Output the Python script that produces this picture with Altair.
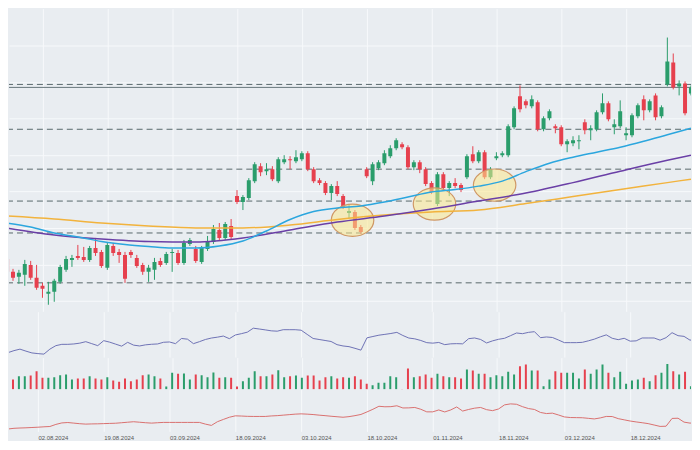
import altair as alt
import pandas as pd

# ---------------- data ----------------
TICK_IDX = [6, 17, 28, 39, 50, 61, 72, 83, 94, 105]
TICK_LABELS = ["02.08.2024", "19.08.2024", "03.09.2024", "18.09.2024", "03.10.2024",
               "18.10.2024", "01.11.2024", "18.11.2024", "03.12.2024", "18.12.2024"]

OPEN = [70.5, 64, 61.5, 62.5, 67.5, 61, 57, 53, 54, 59,
        65, 70, 72, 71.5, 70, 76, 74, 66, 77, 74,
        72.5, 74, 71, 67.5, 64, 65, 69.5, 68.5, 73.5, 73.5,
        68.5, 78, 75.5, 69, 75.5, 79, 85, 81, 87, 102,
        99, 101, 109.5, 117, 114.5, 115.5, 109.5, 119, 120.5, 119.5,
        120.5, 123.5, 115.5, 110, 108.5, 103.5, 107, 102, 93.5, 94,
        86.5, 115.5, 109.5, 116, 118.5, 122, 126, 128, 126.5, 116.5,
        119, 115.5, 108.5, 98, 113, 106, 108.5, 107.5, 111.5, 123,
        119.5, 124, 111.5, 121, 122.5, 122.5, 136.5, 152, 149.5, 147,
        149, 135.5, 141, 137, 136.5, 128, 128.5, 129.5, 139, 135,
        135.5, 144, 148.5, 136.5, 137, 132.5, 132.5, 142, 150.5, 145,
        152.5, 142, 158, 169, 157, 158.5, 153.5]
HIGH = [72.5, 65.5, 65, 70, 69.5, 67.5, 58.5, 59, 60.5, 67.5,
        72, 72.5, 77.5, 76.5, 77, 81, 75, 78.5, 78.5, 75.5,
        74, 75, 72.5, 68.5, 67.5, 71, 71, 74, 75.5, 75,
        80, 81, 77, 77, 82, 87.5, 88.5, 89, 90.5, 105,
        102.5, 111, 119, 118.5, 118.5, 117, 121.5, 122.5, 122, 125,
        124.5, 124.5, 116.5, 111, 109.5, 108, 109.5, 103, 97.5, 95,
        87.5, 116.5, 119, 120, 125, 127.5, 131, 129, 127.5, 120,
        120, 116.5, 109.5, 114, 114, 109.5, 111, 108.5, 123, 127,
        125, 125, 116.5, 124, 124.5, 138, 147, 157.5, 150.5, 152.5,
        150, 142, 145.5, 138, 137.5, 130.5, 132, 132.5, 140.5, 137.5,
        145, 153.5, 149.5, 140.5, 150, 136.5, 143.5, 148.5, 152.5, 150.5,
        153.5, 147.5, 181.5, 173.5, 160, 159.5, 157.5]
LOW = [62.5, 59.5, 58, 57, 60, 55, 51, 47.5, 49, 58,
       64, 66.5, 70, 69, 69, 72, 66, 65, 72, 68.5,
       58.5, 71, 66, 62.5, 59, 60, 66.5, 67.5, 64, 67.5,
       67.5, 77, 68.5, 68, 74.5, 78, 80, 80, 80.5, 98,
       95, 100, 108.5, 112, 112.5, 109.5, 108.5, 118, 115.5, 118.5,
       119.5, 114.5, 108.5, 107.5, 102.5, 100, 102, 95.5, 91, 85,
       83, 111, 107.5, 115, 117.5, 121, 125, 125.5, 115.5, 115,
       113.5, 107, 103, 97, 105, 102, 106, 104, 110.5, 118.5,
       118.5, 110.5, 110.5, 120, 121.5, 121.5, 135.5, 144, 146, 146,
       134.5, 134.5, 140, 133.5, 127, 124, 127, 125.5, 133, 130,
       134.5, 143, 139.5, 133, 136, 130, 131.5, 141, 140, 144,
       140, 141, 157, 155.5, 152.5, 142.5, 152.5]
CLOSE = [64, 61, 63.5, 68, 61, 56, 55.5, 54, 59.5, 66.5,
         70.5, 71, 71, 70, 76, 73.5, 67, 77.5, 73.5, 72.5,
         60.5, 72.5, 67, 64, 66, 69, 67.5, 73, 74, 68.5,
         78.5, 80, 69.5, 76, 79.5, 85.5, 81, 88, 81.5, 99,
         101.5, 110, 118, 114, 115.5, 110.5, 120.5, 120.5, 120, 121.5,
         123.5, 115.5, 109.5, 108.5, 103.5, 107, 103, 96.5, 94.5, 86,
         84, 112, 118, 119, 123.5, 126, 130, 126.5, 116.5, 119,
         115.5, 108, 104, 113, 106, 108.5, 107, 105, 122, 119.5,
         124, 111.5, 115.5, 122, 123.5, 137, 146, 145.5, 147.5, 150.5,
         135.5, 141, 144.5, 136, 128, 129.5, 130, 130, 135, 136,
         144, 148.5, 140.5, 138, 144.5, 133.5, 142.5, 147.5, 145, 149.5,
         141.5, 146.5, 169.5, 156.5, 158.5, 143.5, 156.5]
VOLUME = [532, 400, 532, 532, 560, 732, 468, 468, 492, 572,
          600, 400, 440, 440, 532, 440, 400, 492, 360, 308,
          440, 332, 400, 572, 600, 532, 440, 120, 668, 628,
          640, 400, 600, 572, 492, 680, 468, 492, 468, 120,
          332, 468, 732, 532, 532, 600, 772, 492, 532, 560,
          468, 560, 560, 360, 492, 532, 440, 492, 468, 532,
          400, 228, 172, 268, 268, 532, 492, 20, 840, 492,
          532, 600, 468, 628, 532, 492, 492, 440, 800, 760,
          628, 628, 492, 572, 532, 708, 600, 932, 1000, 760,
          760, 132, 400, 732, 668, 668, 668, 440, 800, 628,
          800, 1000, 668, 492, 708, 228, 360, 400, 468, 332,
          572, 668, 1028, 732, 600, 708, 132]
RSI = [34.8, 33.2, 36.4, 38.8, 35.6, 32.7, 31.6, 30.8, 38.8, 44.4,
       46.5, 46.5, 47.1, 48.4, 50.8, 47.6, 44.4, 52.4, 50.0, 46.8,
       43.6, 49.7, 45.2, 43.9, 45.7, 46.6, 47.1, 49.8, 50.3, 47.6,
       55.9, 54.8, 47.6, 50.8, 54.3, 56.6, 58.0, 59.8, 55.6, 61.5,
       63.6, 66.0, 72.4, 71.1, 69.7, 68.2, 67.6, 70.0, 70.0, 70.0,
       69.2, 62.5, 55.9, 54.3, 52.7, 51.1, 46.0, 43.9, 42.8, 40.1,
       37.2, 56.9, 59.1, 61.2, 62.5, 63.9, 65.7, 60.7, 56.6, 55.3,
       52.7, 49.2, 48.4, 49.5, 46.0, 47.3, 47.6, 47.3, 55.6, 56.7,
       54.3, 48.7, 52.1, 54.6, 56.2, 60.4, 64.7, 63.6, 65.7, 66.8,
       57.2, 58.3, 57.5, 53.5, 49.2, 49.2, 49.2, 49.7, 52.1, 54.8,
       58.5, 61.7, 56.2, 54.0, 56.2, 51.6, 52.1, 56.7, 56.7, 56.7,
       53.2, 57.2, 65.2, 60.4, 59.3, 53.2, 54.8]
ATR = [0.68, 0.74, 0.81, 0.84, 0.86, 0.89, 0.92, 0.96, 0.99, 1.20,
       1.35, 1.39, 1.33, 1.27, 1.23, 1.25, 1.26, 1.28, 1.30, 1.32,
       1.37, 1.42, 1.47, 1.42, 1.37, 1.33, 1.37, 1.40, 1.40, 1.40,
       1.40, 1.40, 1.40, 1.40, 1.23, 1.10, 1.47, 1.70, 1.92, 2.06,
       2.04, 2.01, 2.00, 2.00, 2.00, 2.05, 2.08, 2.13, 2.18, 2.23,
       2.26, 2.23, 2.19, 2.13, 2.08, 2.02, 1.97, 1.92, 1.98, 2.08,
       2.20, 2.45, 2.72, 3.02, 2.97, 2.98, 3.07, 2.85, 2.86, 2.90,
       2.72, 2.46, 2.46, 2.65, 2.45, 2.65, 2.95, 2.54, 2.70, 2.83,
       2.90, 2.68, 2.58, 2.75, 3.16, 3.26, 3.22, 2.98, 2.79, 2.70,
       2.40, 2.29, 2.33, 2.15, 1.95, 1.89, 1.88, 1.87, 1.81, 1.75,
       1.85, 2.00, 1.99, 1.78, 1.66, 1.54, 1.45, 1.37, 1.28, 1.14,
       1.00, 1.02, 1.80, 1.82, 1.43, 1.33, 1.38]

MA_FAST_IDX = [0, 4, 8, 12, 16, 20, 24, 28, 32, 36, 40, 44, 48, 52, 56, 60, 64, 68,
               72, 76, 80, 84, 88, 92, 96, 100, 104, 108, 112, 116]
MA_FAST = [88.5, 86.5, 83.5, 81.5, 79.25, 77.75, 76.75, 76, 76, 77, 79.5, 84.5, 90.25,
           94.25, 96, 97, 99, 101.5, 104, 105.25, 107, 109.5, 114.25, 118.5, 121.5, 124,
           126.5, 129.5, 132.75, 136]
MA_MID_IDX = [0, 8, 16, 24, 32, 40, 48, 56, 64, 72, 80, 88, 96, 104, 112, 116]
MA_MID = [86, 82.5, 80.5, 79.25, 79, 81, 85, 89, 92, 95.5, 99.5, 103.5, 108.75, 114.5, 120, 122.5]
MA_SLOW_IDX = [0, 8, 16, 24, 32, 40, 48, 56, 64, 72, 80, 88, 96, 104, 112, 116]
MA_SLOW = [92, 90.5, 88.5, 87, 86, 86, 87.5, 90.25, 92.5, 94, 95, 98.25, 101.75, 105.25, 108.75, 110.5]

LEVELS_DASHED = [158, 135.5, 115.5, 99.5, 83.5, 58.5]
LEVELS_SOLID = [156.5]
ZONE_IDX = [58.6, 72.5, 82.7]
ZONE_PRICE = [89.9, 98, 107.5]
GRID_PRICE = [186.65, 177.5, 168.35, 159.2, 150.05, 140.9, 131.75, 122.6, 113.45,
              104.3, 95.15, 86.0, 76.85, 67.7, 58.55, 49.4]

# ---------------- styling ----------------
BG = "#e9edf1"
GRID_C = "#f7f9fb"
GREEN = "#2a9d6b"
RED = "#e6404e"
W = 684
ELLIPSE = "M-1,0A1,0.76,0,1,1,1,0A1,0.76,0,1,1,-1,0Z"

candles = pd.DataFrame({
    "i": list(range(len(OPEN))), "open": OPEN, "high": HIGH, "low": LOW, "close": CLOSE,
    "volume": VOLUME, "rsi": RSI, "atr": ATR,
})
candles["dir"] = ["up" if c >= o else "down" for o, c in zip(OPEN, CLOSE)]

xscale = alt.Scale(domain=[7 / 6, 691 / 6], nice=False, zero=False)
color = alt.Color("dir:N", scale=alt.Scale(domain=["up", "down"], range=[GREEN, RED]), legend=None)
label_expr = " : ".join(f"datum.value == {v} ? '{t}'" for v, t in zip(TICK_IDX, TICK_LABELS)) + " : ''"


def x_axis(show_labels):
    if show_labels:
        return alt.Axis(values=TICK_IDX, grid=True, gridColor=GRID_C, gridWidth=1,
                        labels=True, labelExpr=label_expr, labelAlign="left",
                        labelFontSize=6, labelFont="Liberation Sans", labelColor="#555555",
                        labelPadding=3, ticks=False, tickSize=0, domain=False, title=None,
                        labelOverlap=False, minExtent=0)
    return alt.Axis(values=TICK_IDX, grid=True, gridColor=GRID_C, gridWidth=1, labels=False,
                    ticks=False, domain=False, title=None, minExtent=0, maxExtent=0)


X = alt.X("i:Q", scale=xscale, axis=x_axis(False))
yscale = alt.Scale(domain=[44, 196], nice=False, zero=False)
yaxis = alt.Axis(values=GRID_PRICE, grid=True, gridColor=GRID_C, gridWidth=1, labels=False,
                 ticks=False, domain=False, title=None, minExtent=0, maxExtent=0)

base = alt.Chart(candles)
wicks = base.mark_rule(strokeWidth=1, clip=True).encode(
    x=X, y=alt.Y("low:Q", scale=yscale, axis=yaxis), y2="high:Q", color=color)
bodies = base.mark_bar(size=4, clip=True).encode(
    x="i:Q", y="open:Q", y2="close:Q", color=color)

dashed = alt.Chart(pd.DataFrame({"p": LEVELS_DASHED})).mark_rule(
    strokeDash=[6, 4], color="#58686b", strokeWidth=1).encode(y="p:Q")
solid = alt.Chart(pd.DataFrame({"p": LEVELS_SOLID})).mark_rule(
    color="#66767a", strokeWidth=1).encode(y="p:Q")


def ma_line(idx, vals, col):
    return alt.Chart(pd.DataFrame({"i": idx, "v": vals})).mark_line(
        color=col, strokeWidth=1.5, interpolate="monotone", clip=True).encode(x="i:Q", y="v:Q")


ma_slow = ma_line(MA_SLOW_IDX, MA_SLOW, "#f2b33d")
ma_mid = ma_line(MA_MID_IDX, MA_MID, "#6a3fa6")
ma_fast = ma_line(MA_FAST_IDX, MA_FAST, "#2ba6de")

zones = alt.Chart(pd.DataFrame({"i": ZONE_IDX, "p": ZONE_PRICE})).mark_point(
    shape=ELLIPSE, size=1815, filled=True, fill="#fbe88c", fillOpacity=0.55,
    stroke="#cf9866", strokeWidth=1.2, strokeOpacity=1, opacity=1, clip=True
).encode(x="i:Q", y="p:Q")

main = alt.layer(dashed, solid, wicks, bodies, zones, ma_slow, ma_mid, ma_fast).properties(
    width=W, height=304)

rsi = base.mark_line(color="#6e72b5", strokeWidth=1, clip=True).encode(
    x=X, y=alt.Y("rsi:Q", scale=alt.Scale(domain=[25.2, 98.8], nice=False, zero=False), axis=None)
).properties(width=W, height=46)

vol = base.mark_bar(size=2, clip=True).encode(
    x=X, y=alt.Y("volume:Q", scale=alt.Scale(domain=[0, 1280], nice=False), axis=None),
    color=color
).properties(width=W, height=32)

atr = base.mark_line(color="#d9706f", strokeWidth=1, clip=True).encode(
    x=alt.X("i:Q", scale=xscale, axis=x_axis(True)),
    y=alt.Y("atr:Q", scale=alt.Scale(domain=[0.5, 4.7], nice=False, zero=False), axis=None)
).properties(width=W, height=42)

chart = alt.vconcat(main, rsi, vol, atr, spacing=0).properties(
    padding=0, background=BG
).configure_view(stroke=None, fill=BG).configure_concat(spacing=0)

chart.save("out.html", embed_options={"renderer": "svg", "actions": False})
